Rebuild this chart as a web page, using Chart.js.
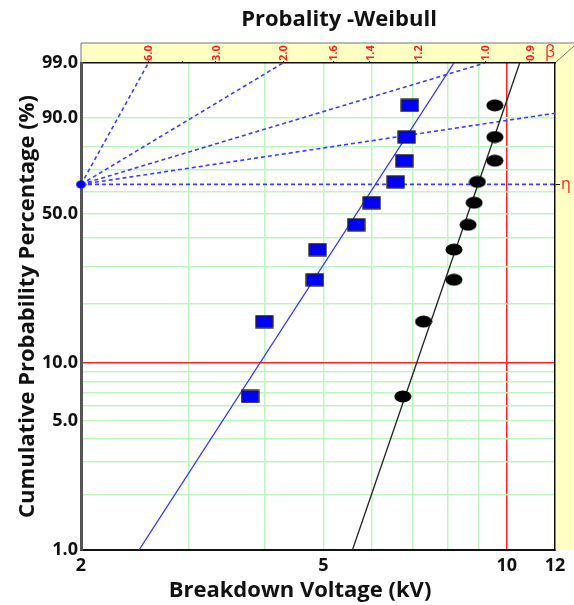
<!DOCTYPE html>
<html>
<head>
<meta charset="utf-8">
<script src="https://cdn.jsdelivr.net/npm/chart.js@4/dist/chart.umd.min.js"></script>
<style>
  html, body { margin: 0; padding: 0; background: #fff; }
</style>
</head>
<body>
<canvas id="chart" width="574" height="605"></canvas>
<script>
// Cumulative probability (%) of each failure, shared by both samples
const probPct = [6.7, 16.3, 26.0, 35.6, 45.2, 54.8, 64.4, 74.0, 83.7, 93.3];
// Breakdown voltage (kV) of each sample
const voltsA = [3.79, 4.00, 4.84, 4.89, 5.66, 6.00, 6.57, 6.79, 6.85, 6.93];
const voltsB = [6.75, 7.30, 8.19, 8.19, 8.64, 8.84, 8.95, 9.56, 9.56, 9.56];
// Fitted Weibull lines (kV at 1% and 99%)
const fitProb = [1, 99];
const fitA = [2.49, 8.19];
const fitB = [5.58, 10.5];

// Axis ticks
const xTicks = [2, 3, 4, 5, 6, 7, 8, 9, 10, 12];
const xLabels = [2, 5, 10, 12];
const yTicks = [1, 2, 3, 4, 5, 6, 7, 8, 9, 10, 20, 30, 40, 50, 60, 70, 80, 90, 99];
const yLabels = [1, 5, 10, 50, 90, 99];
const betaTicks = [6, 4, 3, 2, 1.6, 1.4, 1.2, 1.0, 0.9];
const betaLabels = [6, 3, 2, 1.6, 1.4, 1.2, 1.0, 0.9];
const betaGuides = [6, 2, 1, 0.5, 0];
const etaPct = 63.21;
const pivotKV = 2;

// Weibull probability transform
const wb = (p) => Math.log(-Math.log(1 - p / 100));
const wbInv = (w) => 100 * (1 - Math.exp(-Math.exp(w)));

class WeibullScale extends Chart.LinearScale {
  static id = "weibull";
  static defaults = Chart.LinearScale.defaults;
  determineDataLimits() {
    this.min = this.options.min;
    this.max = this.options.max;
  }
  buildTicks() {
    return [];
  }
  configure() {
    super.configure();
    this._startValue = wb(this.min);
    this._valueRange = wb(this.max) - wb(this.min);
  }
  getPixelForValue(value) {
    return this.getPixelForDecimal((wb(value) - this._startValue) / this._valueRange);
  }
  getValueForPixel(pixel) {
    return wbInv(this._startValue + this.getDecimalForPixel(pixel) * this._valueRange);
  }
}
Chart.register(WeibullScale);

function makeMarker(w, h, draw) {
  const c = document.createElement("canvas");
  c.width = w;
  c.height = h;
  draw(c.getContext("2d"), w, h);
  return c;
}
const boxMarker = makeMarker(19, 14, (g, w, h) => {
  g.fillStyle = "#0000ff";
  g.fillRect(1, 1, w - 2, h - 2);
  g.strokeStyle = "#222";
  g.lineWidth = 1.3;
  g.strokeRect(1, 1, w - 2, h - 2);
});
const dotMarker = makeMarker(18, 13, (g, w, h) => {
  g.fillStyle = "#000";
  g.beginPath();
  g.ellipse(w / 2, h / 2, w / 2 - 0.5, h / 2 - 0.5, 0, 0, Math.PI * 2);
  g.fill();
});
const pivotMarker = makeMarker(11, 9, (g, w, h) => {
  g.fillStyle = "#0000ff";
  g.beginPath();
  g.ellipse(w / 2, h / 2, w / 2 - 0.5, h / 2 - 0.5, 0, 0, Math.PI * 2);
  g.fill();
});

const w99 = wb(99);
const betaX = (b) => pivotKV * Math.exp(w99 / b);

// guide lines of constant slope through the pivot (2 kV, 63.2%)
const guideSets = betaGuides.map((b) => {
  const wEnd = b * Math.log(12 / pivotKV);
  const end = wEnd > w99 ? { x: betaX(b), y: 99 } : { x: 12, y: wbInv(wEnd) };
  return {
    data: [{ x: pivotKV, y: etaPct }, end],
    showLine: true,
    borderColor: "#3c3cff",
    borderWidth: 1.6,
    borderDash: [4, 3],
    pointRadius: 0,
  };
});

const frame = {
  id: "frame",
  beforeDraw(chart) {
    const { ctx, chartArea: a, width } = chart;
    ctx.save();
    ctx.fillStyle = "#fff";
    ctx.fillRect(0, 0, width, chart.height);
    ctx.fillStyle = "#ffffc4";
    ctx.fillRect(a.left, a.top - 20, width - a.left, 20);
    ctx.fillRect(a.right, a.top, width - a.right, a.bottom - a.top);
    ctx.strokeStyle = "#777";
    ctx.lineWidth = 1;
    ctx.beginPath();
    ctx.moveTo(a.left, a.top - 20);
    ctx.lineTo(width, a.top - 20);
    ctx.moveTo(a.left, a.top - 20);
    ctx.lineTo(a.left, a.top);
    ctx.moveTo(a.right, a.top);
    ctx.lineTo(width, a.top - 17);
    ctx.stroke();
    ctx.restore();
  },
  afterDraw(chart) {
    const { ctx } = chart;
    ctx.save();
    ctx.fillStyle = "#111";
    ctx.textAlign = "center";
    ctx.textBaseline = "middle";
    ctx.font = "bold 22px 'Open Sans'";
    ctx.fillText("Probality -Weibull", 339, 20);
    ctx.font = "bold 22px 'Open Sans'";
    ctx.fillText("Breakdown Voltage (kV)", 300, 591);
    ctx.restore();
  },
};

const ctx = document.getElementById("chart").getContext("2d");
const chart = new Chart(ctx, {
  type: "scatter",
  data: {
    datasets: [
      {
        data: probPct.map((p, i) => ({ x: voltsA[i], y: p })),
        pointStyle: boxMarker,
      },
      {
        data: probPct.map((p, i) => ({ x: voltsB[i], y: p })),
        pointStyle: dotMarker,
      },
      {
        data: [{ x: pivotKV, y: etaPct }],
        pointStyle: pivotMarker,
        clip: false,
      },
      {
        data: fitProb.map((p, i) => ({ x: fitA[i], y: p })),
        showLine: true,
        borderColor: "#3535ff",
        borderWidth: 1.3,
        pointRadius: 0,
      },
      {
        data: fitProb.map((p, i) => ({ x: fitB[i], y: p })),
        showLine: true,
        borderColor: "#222",
        borderWidth: 1.3,
        pointRadius: 0,
      },
      ...guideSets,
    ],
  },
  options: {
    responsive: false,
    animation: false,
    events: [],
    layout: { padding: { top: 43 } },
    plugins: { legend: { display: false }, tooltip: { enabled: false } },
    scales: {
      x: {
        type: "logarithmic",
        min: 2,
        max: 12,
        bounds: "data",
        afterBuildTicks: (s) => { s.ticks = xTicks.map((v) => ({ value: v })); },
        afterFit: (s) => { s.height = 55; },
        ticks: {
          autoSkip: false,
          maxRotation: 0,
          padding: 5,
          color: "#111",
          font: { family: "Open Sans", size: 18, weight: "bold" },
          callback: (v) => (xLabels.includes(v) ? String(v) : ""),
        },
        grid: {
          drawTicks: false,
          lineWidth: 1.5,
          color: (c) => (c.tick.value === 10 ? "#ff2020" : c.tick.value === 2 || c.tick.value === 12 ? "rgba(0,0,0,0)" : "#bff5bf"),
        },
        border: { color: "#111", width: 2 },
      },
      xTop: {
        type: "logarithmic",
        position: "top",
        min: 2,
        max: 12,
        bounds: "data",
        afterBuildTicks: (s) => { s.ticks = betaTicks.map((b) => ({ value: betaX(b) })); },
        afterFit: (s) => { s.height = 20; },
        ticks: {
          autoSkip: false,
          minRotation: 90,
          maxRotation: 90,
          padding: 0,
          labelOffset: 14,
          color: "#ff2020",
          font: { family: "Open Sans", size: 11, weight: "bold" },
          callback: (v, i) => (betaLabels.includes(betaTicks[i]) ? betaTicks[i].toFixed(1) : ""),
        },
        grid: { drawOnChartArea: false, drawTicks: true, tickLength: 2, color: "#111" },
        border: { color: "#111", width: 1.5 },
        title: {
          display: true,
          text: "β",
          align: "end",
          color: "#ff2020",
          padding: 0,
          font: { family: "Open Sans", size: 16 },
        },
      },
      y: {
        type: "weibull",
        min: 1,
        max: 99,
        afterBuildTicks: (s) => { s.ticks = yTicks.map((v) => ({ value: v })); },
        afterFit: (s) => { s.width = 81; },
        ticks: {
          autoSkip: false,
          padding: 3,
          color: "#111",
          font: { family: "Open Sans", size: 18, weight: "bold" },
          callback: (v) => (yLabels.includes(v) ? v.toFixed(1) : ""),
        },
        grid: {
          drawTicks: false,
          lineWidth: 1.5,
          color: (c) => (c.tick.value === 10 ? "#ff2020" : c.tick.value === 1 || c.tick.value === 99 ? "rgba(0,0,0,0)" : "#bff5bf"),
        },
        border: { color: "#555", width: 3 },
        title: {
          display: true,
          text: "Cumulative Probability Percentage (%)",
          color: "#111",
          padding: { top: 15, bottom: 0 },
          font: { family: "Open Sans", size: 22, weight: "bold" },
        },
      },
      yEta: {
        type: "weibull",
        position: "right",
        min: 1,
        max: 99,
        afterBuildTicks: (s) => { s.ticks = [{ value: etaPct }]; },
        afterFit: (s) => { s.width = 19; },
        ticks: {
          padding: 1,
          color: "#ff2020",
          font: { family: "Open Sans", size: 16 },
          callback: () => "η",
        },
        grid: { drawOnChartArea: false, drawTicks: true, tickLength: 5, color: "#111" },
        border: { color: "#111", width: 1.5 },
      },
    },
  },
  plugins: [frame],
});
</script>
</body>
</html>
